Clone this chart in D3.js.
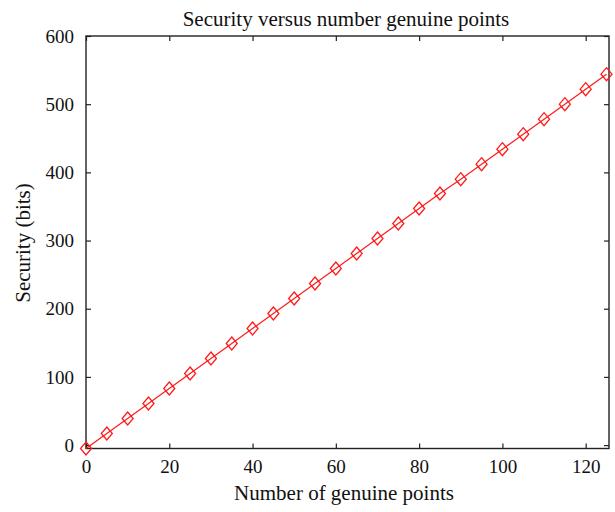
<!DOCTYPE html>
<html>
<head>
<meta charset="utf-8">
<script src="https://cdn.jsdelivr.net/npm/d3@7"></script>
<style>
  html, body { margin: 0; padding: 0; background: #fff; }
  svg { display: block; }
  text { font-family: "Liberation Serif", "DejaVu Serif", serif; fill: #111; }
</style>
</head>
<body>
<svg id="chart" width="615" height="512"></svg>
<script>
// Number of genuine points (x) and resulting security in bits (y)
const genuinePoints = [0, 5, 10, 15, 20, 25, 30, 35, 40, 45, 50, 55, 60,
                       65, 70, 75, 80, 85, 90, 95, 100, 105, 110, 115, 120, 125];
const securityBits = [-5, 17, 39, 61, 83, 105, 127, 149, 171, 193, 215, 237, 259,
                      281, 303, 325, 347, 369, 390, 412, 434, 456, 478, 500, 522, 544];
const xTicks = [0, 20, 40, 60, 80, 100, 120];
const yTicks = [0, 100, 200, 300, 400, 500, 600];

const svg = d3.select("#chart");
const plotLeft = 86, plotRight = 609, plotTop = 36, plotBottom = 448.5;

const x = d3.scaleLinear().domain([0, 125.6]).range([plotLeft, plotRight]);
const y = d3.scaleLinear().domain([-5, 600]).range([plotBottom, plotTop]);

const tickLen = 5;

// Axes with inward ticks on all four sides
svg.append("g").attr("transform", `translate(0,${plotBottom})`)
  .call(d3.axisBottom(x).tickValues(xTicks).tickSizeInner(-tickLen).tickSizeOuter(0).tickPadding(11))
  .call(g => g.select(".domain").remove());
svg.append("g").attr("transform", `translate(0,${plotTop})`)
  .call(d3.axisTop(x).tickValues(xTicks).tickSizeInner(-tickLen).tickSizeOuter(0).tickFormat(""))
  .call(g => g.select(".domain").remove());
svg.append("g").attr("transform", `translate(${plotLeft},0)`)
  .call(d3.axisLeft(y).tickValues(yTicks).tickSizeInner(-tickLen).tickSizeOuter(0).tickPadding(12))
  .call(g => g.select(".domain").remove());
svg.append("g").attr("transform", `translate(${plotRight},0)`)
  .call(d3.axisRight(y).tickValues(yTicks).tickSizeInner(-tickLen).tickSizeOuter(0).tickFormat(""))
  .call(g => g.select(".domain").remove());

svg.selectAll(".tick line").attr("stroke", "#222").attr("stroke-width", 1.2);
svg.selectAll(".tick text")
  .attr("font-family", "Liberation Serif, DejaVu Serif, serif")
  .attr("font-size", 19).attr("fill", "#111");

// Plot frame
svg.append("rect")
  .attr("x", plotLeft).attr("y", plotTop)
  .attr("width", plotRight - plotLeft).attr("height", plotBottom - plotTop)
  .attr("fill", "none").attr("stroke", "#222").attr("stroke-width", 1.4);

// Data line
const line = d3.line()
  .x((d, i) => x(genuinePoints[i]))
  .y(d => y(d));
svg.append("path")
  .datum(securityBits)
  .attr("d", line)
  .attr("fill", "none")
  .attr("stroke", "#ff1a1a")
  .attr("stroke-width", 1.2);

// Diamond markers
const hw = 5.5, hh = 6.5;
svg.selectAll(".marker")
  .data(securityBits)
  .enter().append("path")
  .attr("class", "marker")
  .attr("d", `M0,${-hh}L${hw},0L0,${hh}L${-hw},0Z`)
  .attr("transform", (d, i) => `translate(${x(genuinePoints[i])},${y(d)})`)
  .attr("fill", "none")
  .attr("stroke", "#ff1a1a")
  .attr("stroke-width", 1.3);

// Title and axis labels
svg.append("text")
  .attr("x", 346).attr("y", 26)
  .attr("text-anchor", "middle")
  .attr("font-size", 21)
  .text("Security versus number genuine points");

svg.append("text")
  .attr("x", 344).attr("y", 500)
  .attr("text-anchor", "middle")
  .attr("font-size", 21)
  .text("Number of genuine points");

svg.append("text")
  .attr("transform", "translate(30,243) rotate(-90)")
  .attr("text-anchor", "middle")
  .attr("font-size", 21)
  .text("Security (bits)");
</script>
</body>
</html>
